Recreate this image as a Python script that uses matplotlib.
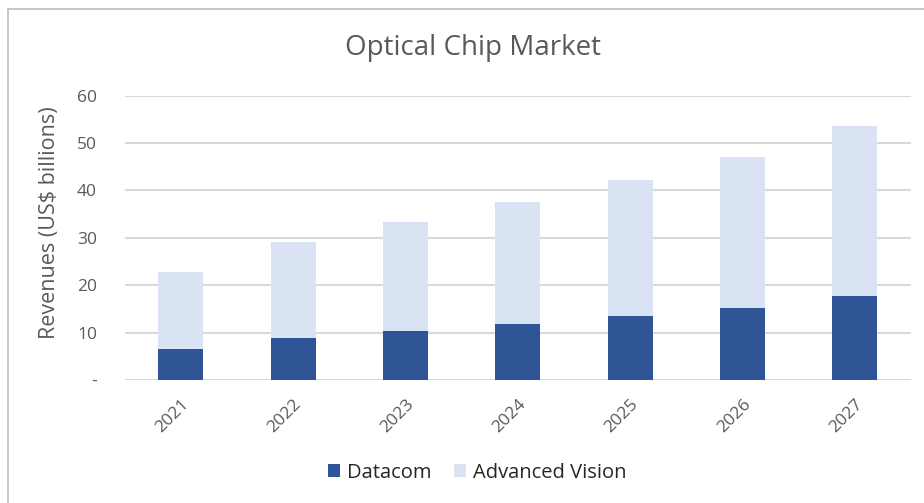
import matplotlib
matplotlib.use('Agg')

import matplotlib.pyplot as plt
from matplotlib.lines import Line2D
import numpy as np

years = ['2021', '2022', '2023', '2024', '2025', '2026', '2027']
datacom = [6.6, 8.8, 10.3, 11.9, 13.6, 15.1, 17.8]
advanced_vision = [16.3, 20.4, 23.0, 25.6, 28.6, 31.9, 35.8]
y_ticks = [0, 10, 20, 30, 40, 50, 60]
y_tick_labels = ['-', '10', '20', '30', '40', '50', '60']

plt.rcParams['font.family'] = ['Open Sans', 'DejaVu Sans']

fig = plt.figure(figsize=(9.24, 5.03), dpi=100)
ax = fig.add_axes([0.135, 0.2445, 0.851, 0.5652])

x = np.arange(len(years))
ax.bar(x, datacom, width=0.4, color='#2F5597', label='Datacom', zorder=3)
ax.bar(x, advanced_vision, width=0.4, bottom=datacom, color='#DAE3F3',
       label='Advanced Vision', zorder=3)

ax.set_xlim(-0.5, len(years) - 0.5)
ax.set_ylim(0, 60)
ax.set_yticks(y_ticks)
ax.set_yticklabels(y_tick_labels)
ax.set_xticks(x)
ax.set_xticklabels(years, rotation=45, ha='right', va='top',
                   rotation_mode='anchor')
ax.grid(axis='y', color='#D9D9D9', linewidth=1.5, zorder=0)
ax.tick_params(axis='both', length=0, labelsize=12.5, colors='#595959')
ax.tick_params(axis='y', pad=20)
ax.tick_params(axis='x', pad=12)
for s in ax.spines.values():
    s.set_visible(False)

ax.set_ylabel('Revenues (US$ billions)', fontsize=15.5, color='#595959',
              va='center', ha='center')
ax.yaxis.set_label_coords(-0.0963, 0.554)
fig.text(0.512, 0.905, 'Optical Chip Market', ha='center', va='center',
         fontsize=20, color='#595959')

ax.legend(loc='center', bbox_to_anchor=(0.448, -0.327), ncol=2, frameon=False,
          fontsize=14.5, handlelength=0.6, handleheight=0.6, columnspacing=1.1,
          handletextpad=0.35, labelcolor='#262626')

# outer chart frame (cropped on right and bottom)
fig.add_artist(Line2D([8 / 924, 8 / 924], [0, 1 - 9 / 503], color='#BFBFBF', lw=1.2))
fig.add_artist(Line2D([8 / 924, 1], [1 - 9 / 503, 1 - 9 / 503], color='#BFBFBF', lw=1.2))

fig.savefig('out.png', dpi=100)
